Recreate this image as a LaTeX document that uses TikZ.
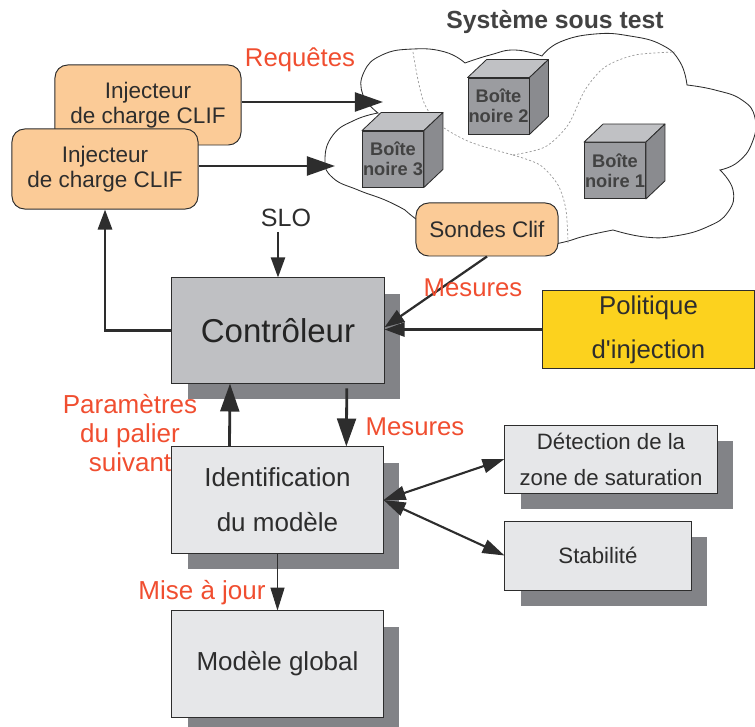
\documentclass[tikz,border=0pt]{standalone}
\usepackage{fontspec}
\setmainfont{Liberation Sans}
\usetikzlibrary{arrows.meta,positioning,calc,shadows}
\definecolor{rouge}{RGB}{240,78,48}
\definecolor{orangeclif}{RGB}{251,203,151}
\definecolor{jaune}{RGB}{252,210,30}
\definecolor{grisctrl}{RGB}{191,192,195}
\definecolor{grisclair}{RGB}{230,231,233}
\definecolor{ombre}{RGB}{130,131,135}
\definecolor{texte}{RGB}{45,45,45}
\definecolor{facefront}{RGB}{155,156,160}
\definecolor{facetop}{RGB}{192,193,196}
\definecolor{faceside}{RGB}{138,139,143}
\tikzset{box/.style={draw=texte,line width=0.7pt,align=center,inner sep=0pt,text=texte},
  clif/.style={box,rounded corners=9pt,fill=orangeclif,font=\fontsize{16}{17.8}\selectfont},
  shbox/.style={box,fill=grisclair,drop shadow={shadow xshift=0.4cm,shadow yshift=-0.4cm,fill=ombre,opacity=1}},
  cube/.style={draw=texte,line width=0.6pt,fill=facefront,minimum width=1.525cm,minimum height=1.4cm,inner sep=0pt,align=center,text=texte!90,font=\bfseries\fontsize{13}{14.2}\selectfont},
  lbl/.style={text=rouge,align=center,font=\fontsize{18.3}{20.6}\selectfont},
  arr/.style={-{Triangle[length=0.5cm,width=0.35cm]},line width=2pt,draw=texte},
  bigarr/.style={arr,-{Triangle[length=0.7cm,width=0.47cm]}},
  darr/.style={{Triangle[length=0.55cm,width=0.35cm]}-{Triangle[length=0.55cm,width=0.35cm]},line width=1.5pt,draw=texte},
  frontier/.style={draw=gray!80,dash pattern=on 1.5pt off 1.5pt,line width=0.5pt}}

\begin{document}
\begin{tikzpicture}[x=0.025cm,y=-0.025cm]
\useasboundingbox (0,0) rectangle (755,727);
% systeme sous test
\node[font=\bfseries\fontsize{17.6}{20}\selectfont,text=texte!90] (titre) at (555,22) {Système sous test};
\draw[fill=white,line width=0.6pt,draw=texte]
  plot[smooth,tension=0.8] coordinates {(378,113) (363,95) (364,72) (382,55) (413,49) (445,52) (465,63)}
  -- plot[smooth,tension=0.8] coordinates {(465,63) (490,55) (515,50) (542,56)}
  -- plot[smooth,tension=0.8] coordinates {(542,56) (560,42) (595,34) (630,36) (662,45) (680,62) (687,85)}
  -- plot[smooth,tension=0.8] coordinates {(687,85) (715,90) (742,100) (755,118) (752,143) (738,162) (720,170)}
  -- plot[smooth,tension=0.8] coordinates {(720,170) (733,190) (728,212) (707,227) (675,236) (645,237) (613,230)}
  -- plot[smooth,tension=0.8] coordinates {(613,230) (585,236) (560,243) (520,250) (470,245) (430,228) (405,210)}
  -- plot[smooth,tension=0.8] coordinates {(405,210) (385,200) (358,190) (333,178) (325,160) (333,135) (355,120) (378,113)}
  -- cycle;
\draw[frontier] plot[smooth] coordinates {(413,52) (418,80) (425,105) (440,125) (470,142) (513,155)};
\draw[frontier] plot[smooth] coordinates {(513,155) (545,147) (568,125) (585,90) (605,67) (635,55) (675,52)};
\draw[frontier] plot[smooth] coordinates {(513,155) (540,165) (558,185) (566,210) (568,243)};
% boites noires
\foreach \nom/\cx/\cy/\num in {bn2/498.5/106/2, bn3/393/159/3, bn1/615/170.5/1} {
  \node[cube] (\nom) at (\cx,\cy) {Boîte\\noire \num};
  \filldraw[fill=facetop,draw=texte,line width=0.6pt,line join=round] (\nom.north west) -- ++(19,-18) -- ([shift={(19,-18)}]\nom.north east) -- (\nom.north east) -- cycle;
  \filldraw[fill=faceside,draw=texte,line width=0.6pt,line join=round] (\nom.north east) -- ++(19,-18) -- ([shift={(19,-18)}]\nom.south east) -- (\nom.south east) -- cycle;
}
\node[clif,minimum width=3.55cm,minimum height=1.325cm] (sondes) at (487,229.5) {Sondes Clif};
% injecteurs
\node[clif,minimum width=4.65cm,minimum height=2cm] (inj2) at (148,105) {Injecteur\\de charge CLIF};
\node[clif,minimum width=4.65cm,minimum height=2cm] (inj1) at (105,169) {Injecteur\\de charge CLIF};
\coordinate (req) at (383,102);
\coordinate (cl1) at (335,166);
\draw[bigarr] (inj2.east |- req) -- (req);
\draw[bigarr] (inj1.east |- cl1) -- (cl1);
\node[lbl] (requetes) at (300,60) {Requêtes};
% controleur
\node[shbox,fill=grisctrl,minimum width=5.3cm,minimum height=2.625cm,text=texte!80!black,font=\fontsize{23.5}{28}\selectfont] (ctrl) at (278,330.5) {Contrôleur};
\node[text=texte,font=\fontsize{17.8}{20}\selectfont] (slo) at (286,218) {SLO};
\draw[arr,line width=1.6pt] (slo.south -| ctrl.north) -- (ctrl.north);
\draw[arr] (ctrl.west) -| (inj1.south);
\node[box,fill=jaune,minimum width=5.3cm,minimum height=1.95cm,font=\fontsize{18.3}{31.3}\selectfont] (polit) at (648.5,329.5) {Politique\\d\textquotesingle injection};
\draw[arr] (polit.west) -- (polit.west -| ctrl.east);
\draw[arr,line width=1.6pt] (sondes.south) -- ([yshift=0.08cm]ctrl.east);
\node[lbl] (mes1) at (473,288) {Mesures};
% identification
\node[shbox,minimum width=5.275cm,minimum height=2.65cm,font=\fontsize{18.5}{32}\selectfont] (ident) at (277.5,500) {Identification\\du modèle};
\draw[bigarr] ([xshift=-1.2cm]ident.north) -- ([xshift=-1.2cm]ctrl.south);
\draw[bigarr] ([xshift=1.72cm,yshift=-0.12cm]ctrl.south) -- ([xshift=1.72cm]ident.north);
\node[lbl] (mes2) at (415,427) {Mesures};
\node[lbl,font=\fontsize{18.5}{20.6}\selectfont] (param) at (130,433) {Paramètres\\du palier\\suivant};
\node[shbox,minimum width=5.3cm,minimum height=1.7cm,font=\fontsize{15.8}{25.6}\selectfont] (detect) at (611,459) {Détection de la\\zone de saturation};
\node[shbox,minimum width=4.65cm,minimum height=1.725cm,font=\fontsize{15.8}{20}\selectfont] (stab) at (598,555.5) {Stabilité};
\draw[darr] (ident.east) -- (detect.west);
\draw[darr] (ident.east) -- (stab.west);
% modele global
\node[shbox,minimum width=5.275cm,minimum height=2.65cm,font=\fontsize{18.5}{22}\selectfont] (modele) at (277.5,664) {\raisebox{-2pt}{Modèle global}};
\draw[-{Triangle[length=0.57cm,width=0.35cm]},line width=0.7pt,draw=texte] (ident.south) -- (modele.north);
\node[lbl,font=\fontsize{18.5}{20.6}\selectfont] (maj) at (202,593) {Mise à jour};
\end{tikzpicture}
\end{document}
